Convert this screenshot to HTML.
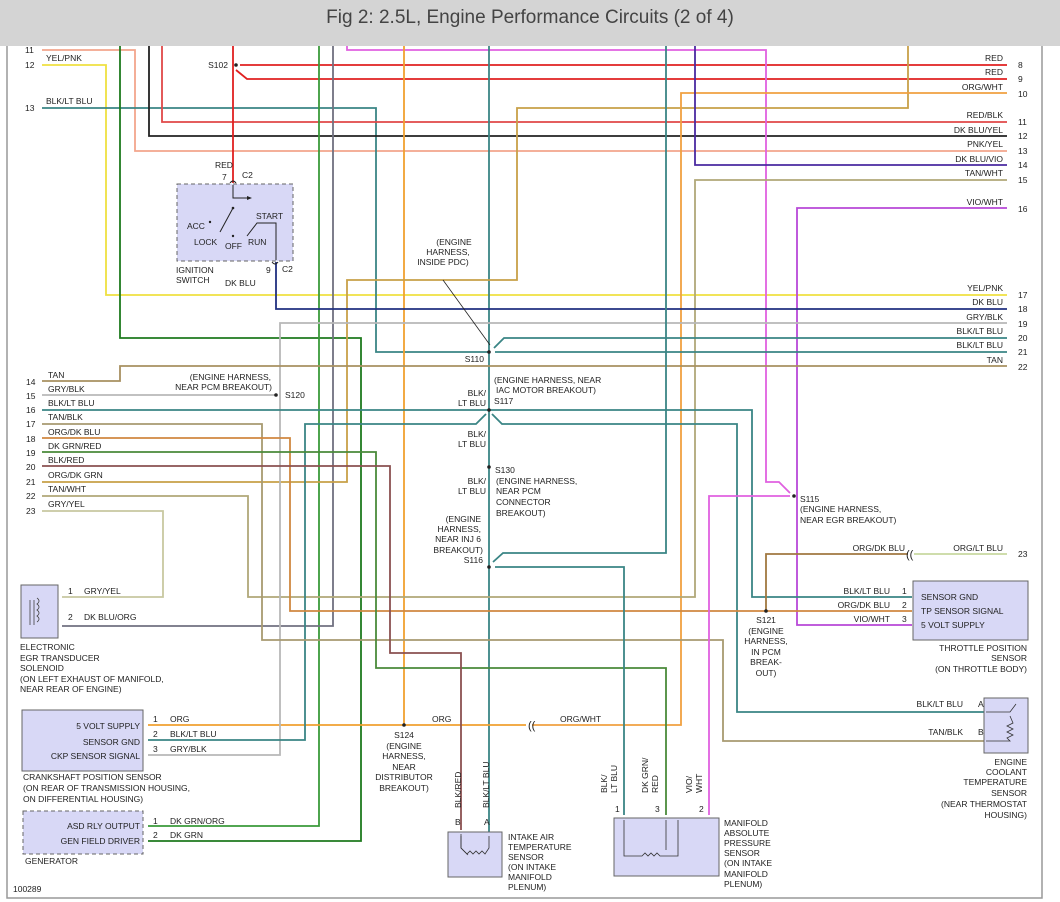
<!DOCTYPE html>
<html><head><meta charset="utf-8"><style>
body{margin:0;background:#fff;}
svg{display:block;font-family:"Liberation Sans",sans-serif;}
.w{fill:none;stroke-width:1.8;}
text{font-size:8.5px;fill:#222;}
.r{text-anchor:end;}
.m{text-anchor:middle;}
</style></head><body>
<svg width="1060" height="902" viewBox="0 0 1060 902" xmlns="http://www.w3.org/2000/svg">
<rect x="0" y="0" width="1060" height="46" fill="#d4d4d4"/>
<text x="530" y="23" class="m" style="font-size:19px;fill:#444">Fig 2: 2.5L, Engine Performance Circuits (2 of 4)</text>
<polyline points="7,46 7,898 1042,898 1042,46" fill="none" stroke="#999" stroke-width="1.5"/>

<!-- wires -->
<polyline class="w" stroke="#f3a58c" points="42,50 135,50 135,151 1007,151"/>
<polyline class="w" stroke="#efe040" points="42,65 106,65 106,295 1007,295"/>
<polyline class="w" stroke="#3a8585" points="42,108 376,108 376,352 489,352"/>
<polyline class="w" stroke="#1e7a1e" points="120,46 120,338 361,338 361,841 148,841"/>
<polyline class="w" stroke="#222" stroke-width="1.3" points="149,46 149,136 1007,136"/>
<polyline class="w" stroke="#e04848" points="162,46 162,122 1007,122"/>
<polyline class="w" stroke="#e02020" points="233,46 233,183"/>
<polyline class="w" stroke="#e02020" points="240,65 1007,65"/>
<polyline class="w" stroke="#e02020" points="236,70 247,79 1007,79"/>
<polyline class="w" stroke="#3a9a3a" points="319,46 319,826 148,826"/>
<polyline class="w" stroke="#707080" points="333,46 333,626 62,626"/>
<polyline class="w" stroke="#e060e0" points="347,46 347,50 766,50 766,482 779,482 790,493"/>
<polyline class="w" stroke="#f0a030" points="404,46 404,725"/>
<polyline class="w" stroke="#3a8585" points="489,46 489,833"/>
<polyline class="w" stroke="#c8a048" points="42,482 347,482 347,280 517,280 517,108 908,108 908,46"/>
<polyline class="w" stroke="#f0a040" points="1007,93 681,93 681,725 532,725"/>
<polyline class="w" stroke="#f0a030" points="148,725 526,725"/>
<polyline class="w" stroke="#4a2aa0" points="1007,165 695,165 695,46"/>
<polyline class="w" stroke="#b0a878" points="1007,180 695,180 695,597 248,597 248,496 42,496"/>
<polyline class="w" stroke="#b848d8" points="1007,208 797,208 797,625 912,625"/>
<polyline class="w" stroke="#203080" points="276,262 276,309 1007,309"/>
<polyline class="w" stroke="#b8b8b8" points="1007,323 280,323 280,755 148,755"/>
<polyline class="w" stroke="#b8b8b8" points="42,395 276,395"/>
<polyline class="w" stroke="#3a8585" points="495,352 1007,352"/>
<polyline class="w" stroke="#3a8585" points="494,348 504,338 1007,338"/>
<polyline class="w" stroke="#a89060" points="1007,366 120,366 120,381 42,381"/>
<polyline class="w" stroke="#3a8585" points="42,410 752,410 752,597 912,597"/>
<polyline class="w" stroke="#3a8585" points="486,414 476,424 305,424 305,740 148,740"/>
<polyline class="w" stroke="#3a8585" points="492,414 502,424 737,424 737,712 985,712"/>
<polyline class="w" stroke="#a89a70" points="42,424 262,424 262,640 723,640 723,741 985,741"/>
<polyline class="w" stroke="#d08840" points="42,438 290,438 290,611 912,611"/>
<polyline class="w" stroke="#a07840" points="766,611 766,554 908,554"/>
<polyline class="w" stroke="#c8d8a0" points="914,554 1007,554"/>
<polyline class="w" stroke="#4a8a3a" points="42,452 376,452 376,668 666,668 666,815"/>
<polyline class="w" stroke="#8a5050" points="42,466 390,466 390,653 461,653 461,830"/>
<polyline class="w" stroke="#c8c8a0" points="42,511 163,511 163,597 62,597"/>
<polyline class="w" stroke="#3a8585" points="666,46 666,553 503,553 493,562"/>
<polyline class="w" stroke="#3a8585" points="495,567 624,567 624,815"/>
<polyline class="w" stroke="#e060e0" points="790,496 709,496 709,815"/>

<!-- splice dots -->
<g fill="#222">
<circle cx="236" cy="65" r="1.8"/><circle cx="489" cy="352" r="1.8"/><circle cx="489" cy="410" r="1.8"/>
<circle cx="489" cy="467" r="1.8"/><circle cx="489" cy="567" r="1.8"/><circle cx="276" cy="395" r="1.8"/>
<circle cx="794" cy="496" r="1.8"/><circle cx="766" cy="611" r="1.8"/><circle cx="404" cy="725" r="1.8"/>
</g>
<text x="528" y="729" style="font-size:11px">((</text>
<text x="906" y="558" style="font-size:11px">((</text>
<text x="483" y="254" style="font-size:8.5px"/>

<!-- right labels -->
<g class="r">
<text x="1003" y="61" class="r">RED</text><text x="1003" y="75" class="r">RED</text>
<text x="1003" y="90" class="r">ORG/WHT</text><text x="1003" y="118" class="r">RED/BLK</text>
<text x="1003" y="133" class="r">DK BLU/YEL</text><text x="1003" y="147" class="r">PNK/YEL</text>
<text x="1003" y="162" class="r">DK BLU/VIO</text><text x="1003" y="176" class="r">TAN/WHT</text>
<text x="1003" y="205" class="r">VIO/WHT</text><text x="1003" y="291" class="r">YEL/PNK</text>
<text x="1003" y="305" class="r">DK BLU</text><text x="1003" y="320" class="r">GRY/BLK</text>
<text x="1003" y="334" class="r">BLK/LT BLU</text><text x="1003" y="348" class="r">BLK/LT BLU</text>
<text x="1003" y="363" class="r">TAN</text><text x="1003" y="551" class="r">ORG/LT BLU</text>
</g>
<g>
<text x="1018" y="68">8</text><text x="1018" y="82">9</text><text x="1018" y="97">10</text>
<text x="1018" y="125">11</text><text x="1018" y="139">12</text><text x="1018" y="154">13</text>
<text x="1018" y="168">14</text><text x="1018" y="183">15</text><text x="1018" y="212">16</text>
<text x="1018" y="298">17</text><text x="1018" y="312">18</text><text x="1018" y="327">19</text>
<text x="1018" y="341">20</text><text x="1018" y="355">21</text><text x="1018" y="370">22</text>
<text x="1018" y="557">23</text>
</g>
<!-- left labels -->
<g>
<text x="25" y="53">11</text><text x="25" y="68">12</text><text x="46" y="61">YEL/PNK</text>
<text x="25" y="111">13</text><text x="46" y="104">BLK/LT BLU</text>
<text x="26" y="385">14</text><text x="48" y="378">TAN</text>
<text x="26" y="399">15</text><text x="48" y="392">GRY/BLK</text>
<text x="26" y="413">16</text><text x="48" y="406">BLK/LT BLU</text>
<text x="26" y="427">17</text><text x="48" y="420">TAN/BLK</text>
<text x="26" y="442">18</text><text x="48" y="435">ORG/DK BLU</text>
<text x="26" y="456">19</text><text x="48" y="449">DK GRN/RED</text>
<text x="26" y="470">20</text><text x="48" y="463">BLK/RED</text>
<text x="26" y="485">21</text><text x="48" y="478">ORG/DK GRN</text>
<text x="26" y="499">22</text><text x="48" y="492">TAN/WHT</text>
<text x="26" y="514">23</text><text x="48" y="507">GRY/YEL</text>
</g>

<!-- splice labels -->
<text x="228" y="68" class="r">S102</text>
<text x="215" y="168">RED</text><text x="222" y="180">7</text><text x="242" y="178">C2</text>
<text x="266" y="273">9</text><text x="282" y="272">C2</text><text x="225" y="286">DK BLU</text>
<text x="176" y="273">IGNITION</text><text x="176" y="283">SWITCH</text>
<g class="m"><text x="454" y="245" class="m">(ENGINE</text><text x="448" y="255" class="m">HARNESS,</text><text x="443" y="265" class="m">INSIDE PDC)</text></g>
<line x1="443" y1="280" x2="490" y2="345" stroke="#222" stroke-width="0.8"/>
<text x="484" y="362" class="r">S110</text>
<text x="271" y="380" class="r">(ENGINE HARNESS,</text><text x="272" y="390" class="r">NEAR PCM BREAKOUT)</text>
<text x="285" y="398">S120</text>
<text x="494" y="383">(ENGINE HARNESS, NEAR</text><text x="496" y="393">IAC MOTOR BREAKOUT)</text>
<text x="486" y="396" class="r">BLK/</text><text x="486" y="406" class="r">LT BLU</text><text x="494" y="404">S117</text>
<text x="486" y="437" class="r">BLK/</text><text x="486" y="447" class="r">LT BLU</text>
<text x="495" y="473">S130</text><text x="496" y="484">(ENGINE HARNESS,</text><text x="496" y="494">NEAR PCM</text><text x="496" y="505">CONNECTOR</text><text x="496" y="516">BREAKOUT)</text>
<text x="486" y="484" class="r">BLK/</text><text x="486" y="494" class="r">LT BLU</text>
<text x="481" y="522" class="r">(ENGINE</text><text x="481" y="532" class="r">HARNESS,</text><text x="481" y="542" class="r">NEAR INJ 6</text><text x="483" y="553" class="r">BREAKOUT)</text><text x="483" y="563" class="r">S116</text>
<text x="800" y="502">S115</text><text x="800" y="512">(ENGINE HARNESS,</text><text x="800" y="523">NEAR EGR BREAKOUT)</text>
<text x="905" y="551" class="r">ORG/DK BLU</text>
<g class="m"><text x="766" y="623" class="m">S121</text><text x="766" y="634" class="m">(ENGINE</text><text x="766" y="644" class="m">HARNESS,</text><text x="766" y="655" class="m">IN PCM</text><text x="766" y="665" class="m">BREAK-</text><text x="766" y="676" class="m">OUT)</text></g>
<g class="m"><text x="404" y="738" class="m">S124</text><text x="404" y="749" class="m">(ENGINE</text><text x="404" y="759" class="m">HARNESS,</text><text x="404" y="770" class="m">NEAR</text><text x="404" y="780" class="m">DISTRIBUTOR</text><text x="404" y="791" class="m">BREAKOUT)</text></g>
<text x="432" y="722">ORG</text><text x="560" y="722">ORG/WHT</text>

<!-- ignition switch -->
<rect x="177" y="184" width="116" height="77" fill="#d8d8f6" stroke="#666" stroke-dasharray="4,3"/>
<path d="M230,183 q3,-4 6,0 M272,262 q3,4 6,0" fill="none" stroke="#222"/>
<polyline points="233,185 233,198 250,198" fill="none" stroke="#222" stroke-width="1"/>
<polygon points="252,198 247,196 247,200" fill="#222"/>
<line x1="233" y1="208" x2="220" y2="232" stroke="#222"/>
<polyline points="247,236 257,223 276,223 276,260" fill="none" stroke="#222"/>
<circle cx="233" cy="208" r="1.3" fill="#222"/><circle cx="210" cy="222" r="1.2" fill="#222"/><circle cx="233" cy="236" r="1.2" fill="#222"/>
<text x="187" y="229">ACC</text><text x="194" y="245">LOCK</text><text x="225" y="249">OFF</text><text x="248" y="245">RUN</text><text x="256" y="219">START</text>

<!-- EGR -->
<rect x="21" y="585" width="37" height="53" fill="#d8d8f6" stroke="#666"/>
<path d="M30,600 v25 M34,600 v25 M37,598 q4,3 0,6 q4,3 0,6 q4,3 0,6 q4,3 0,6" fill="none" stroke="#444" stroke-width="0.8"/>
<text x="68" y="594">1</text><text x="84" y="594">GRY/YEL</text>
<text x="68" y="620">2</text><text x="84" y="620">DK BLU/ORG</text>
<text x="20" y="650">ELECTRONIC</text><text x="20" y="661">EGR TRANSDUCER</text><text x="20" y="671">SOLENOID</text><text x="20" y="682">(ON LEFT EXHAUST OF MANIFOLD,</text><text x="20" y="692">NEAR REAR OF ENGINE)</text>

<!-- CKP -->
<rect x="22" y="710" width="121" height="61" fill="#d8d8f6" stroke="#666"/>
<text x="140" y="729" class="r">5 VOLT SUPPLY</text><text x="140" y="745" class="r">SENSOR GND</text><text x="140" y="759" class="r">CKP SENSOR SIGNAL</text>
<text x="153" y="722">1</text><text x="170" y="722">ORG</text>
<text x="153" y="737">2</text><text x="170" y="737">BLK/LT BLU</text>
<text x="153" y="752">3</text><text x="170" y="752">GRY/BLK</text>
<text x="23" y="780">CRANKSHAFT POSITION SENSOR</text><text x="23" y="791">(ON REAR OF TRANSMISSION HOUSING,</text><text x="23" y="802">ON DIFFERENTIAL HOUSING)</text>

<!-- Generator -->
<rect x="23" y="811" width="120" height="43" fill="#d8d8f6" stroke="#666" stroke-dasharray="4,3"/>
<text x="140" y="829" class="r">ASD RLY OUTPUT</text><text x="140" y="844" class="r">GEN FIELD DRIVER</text>
<text x="153" y="824">1</text><text x="170" y="824">DK GRN/ORG</text>
<text x="153" y="838">2</text><text x="170" y="838">DK GRN</text>
<text x="25" y="864">GENERATOR</text>
<text x="13" y="892">100289</text>

<!-- IAT -->
<rect x="448" y="832" width="54" height="45" fill="#d8d8f6" stroke="#666"/>
<polyline points="461,834 461,848 468,855 M489,834" fill="none" stroke="#333" stroke-width="0.8"/>
<path d="M461,836 v12 l6,6 l3,-3 l3,3 l3,-3 l3,3 l3,-3 l3,3 l4,-6 v-12" fill="none" stroke="#333" stroke-width="0.8"/>
<text transform="translate(461,808) rotate(-90)">BLK/RED</text>
<text transform="translate(489,808) rotate(-90)">BLK/LT BLU</text>
<text x="455" y="825">B</text><text x="484" y="825">A</text>
<text x="508" y="840">INTAKE AIR</text><text x="508" y="850">TEMPERATURE</text><text x="508" y="860">SENSOR</text><text x="508" y="870">(ON INTAKE</text><text x="508" y="880">MANIFOLD</text><text x="508" y="890">PLENUM)</text>

<!-- MAP -->
<rect x="614" y="818" width="105" height="58" fill="#d8d8f6" stroke="#666"/>
<path d="M624,820 v36 h18 l3,-3 l3,3 l3,-3 l3,3 l3,-3 l3,3 h18 v-36 M666,820 v30" fill="none" stroke="#333" stroke-width="0.8"/>
<text transform="translate(607,793) rotate(-90)">BLK/</text><text transform="translate(617,793) rotate(-90)">LT BLU</text>
<text transform="translate(648,793) rotate(-90)">DK GRN/</text><text transform="translate(658,793) rotate(-90)">RED</text>
<text transform="translate(692,793) rotate(-90)">VIO/</text><text transform="translate(702,793) rotate(-90)">WHT</text>
<text x="615" y="812">1</text><text x="655" y="812">3</text><text x="699" y="812">2</text>
<text x="724" y="826">MANIFOLD</text><text x="724" y="836">ABSOLUTE</text><text x="724" y="846">PRESSURE</text><text x="724" y="856">SENSOR</text><text x="724" y="866">(ON INTAKE</text><text x="724" y="877">MANIFOLD</text><text x="724" y="887">PLENUM)</text>

<!-- TP sensor -->
<rect x="913" y="581" width="115" height="59" fill="#d8d8f6" stroke="#666"/>
<text x="921" y="600">SENSOR GND</text><text x="921" y="614">TP SENSOR SIGNAL</text><text x="921" y="628">5 VOLT SUPPLY</text>
<text x="890" y="594" class="r">BLK/LT BLU</text><text x="890" y="608" class="r">ORG/DK BLU</text><text x="890" y="622" class="r">VIO/WHT</text>
<text x="902" y="594">1</text><text x="902" y="608">2</text><text x="902" y="622">3</text>
<text x="1027" y="651" class="r">THROTTLE POSITION</text><text x="1027" y="661" class="r">SENSOR</text><text x="1027" y="672" class="r">(ON THROTTLE BODY)</text>

<!-- ECT -->
<rect x="984" y="698" width="44" height="55" fill="#d8d8f6" stroke="#666"/>
<path d="M986,712 h24 l6,-8 M986,741 h24 l-3,-3 l6,-3 l-6,-3 l6,-3 l-6,-3 l6,-3 l-3,-7" fill="none" stroke="#333" stroke-width="0.8"/>
<text x="963" y="707" class="r">BLK/LT BLU</text><text x="963" y="735" class="r">TAN/BLK</text>
<text x="978" y="707">A</text><text x="978" y="735">B</text>
<text x="1027" y="765" class="r">ENGINE</text><text x="1027" y="775" class="r">COOLANT</text><text x="1027" y="785" class="r">TEMPERATURE</text><text x="1027" y="796" class="r">SENSOR</text><text x="1027" y="807" class="r">(NEAR THERMOSTAT</text><text x="1027" y="818" class="r">HOUSING)</text>
</svg>
</body></html>
